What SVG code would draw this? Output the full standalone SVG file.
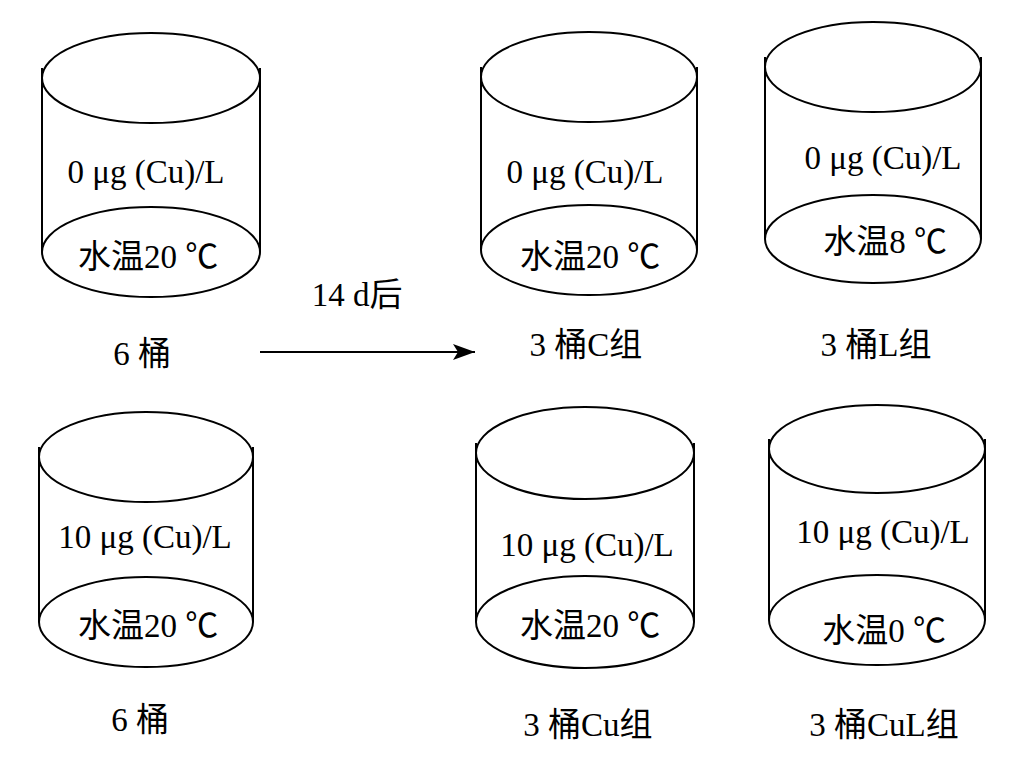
<svg xmlns="http://www.w3.org/2000/svg" width="1024" height="763" viewBox="0 0 1024 763">
<defs>
<style>
.cyl ellipse, .cyl line { fill: none; stroke: #000; stroke-width: 2; }
.t { font-family: "Liberation Serif", "Noto Sans CJK SC", serif; font-size: 33px; fill: #000; text-anchor: middle; }
.lb { font-family: "Liberation Serif", "Noto Sans CJK SC", serif; font-size: 33px; fill: #000; text-anchor: middle; }
.conn { stroke: #000; stroke-width: 2; fill: none; }
</style>
<marker id="ah" markerUnits="userSpaceOnUse" markerWidth="24" markerHeight="20" refX="22" refY="9" orient="auto">
<path d="M0,1 L22,9 L0,17 L5,9 Z" fill="#000"/>
</marker>
</defs>
<rect width="1024" height="763" fill="#fff"/>

<g id="c1" class="cyl">
<ellipse cx="151" cy="78" rx="109" ry="45"/>
<line x1="42" y1="68" x2="42" y2="252"/>
<line x1="260" y1="68" x2="260" y2="252"/>
<ellipse cx="151" cy="252" rx="109" ry="45"/>
<text class="t" x="146" y="183">0 μg (Cu)/L</text>
<text class="t" x="148" y="268">水温20 ℃</text>
</g>
<text id="l1" class="lb" x="142" y="365">6 桶</text>

<g id="c2" class="cyl">
<ellipse cx="146" cy="457" rx="107" ry="45"/>
<line x1="39" y1="447" x2="39" y2="622"/>
<line x1="253" y1="447" x2="253" y2="622"/>
<ellipse cx="146" cy="622" rx="107" ry="45"/>
<text class="t" x="145" y="548">10 μg (Cu)/L</text>
<text class="t" x="148" y="637">水温20 ℃</text>
</g>
<text id="l2" class="lb" x="140" y="731">6 桶</text>

<g id="c3" class="cyl">
<ellipse cx="589" cy="77" rx="108" ry="45"/>
<line x1="481" y1="67" x2="481" y2="250"/>
<line x1="697" y1="67" x2="697" y2="250"/>
<ellipse cx="589" cy="250" rx="108" ry="45"/>
<text class="t" x="585" y="183">0 μg (Cu)/L</text>
<text class="t" x="590" y="268">水温20 ℃</text>
</g>
<text id="l3" class="lb" x="586" y="356">3 桶C组</text>

<g id="c4" class="cyl">
<ellipse cx="873" cy="67" rx="108" ry="45"/>
<line x1="765" y1="57" x2="765" y2="239"/>
<line x1="981" y1="57" x2="981" y2="239"/>
<ellipse cx="873" cy="239" rx="108" ry="44"/>
<text class="t" x="883" y="169">0 μg (Cu)/L</text>
<text class="t" x="885" y="253">水温8 ℃</text>
</g>
<text id="l4" class="lb" x="876" y="356">3 桶L组</text>

<g id="c5" class="cyl">
<ellipse cx="585" cy="453" rx="109" ry="46"/>
<line x1="476" y1="443" x2="476" y2="622"/>
<line x1="694" y1="443" x2="694" y2="622"/>
<ellipse cx="585" cy="622" rx="109" ry="46"/>
<text class="t" x="587" y="556">10 μg (Cu)/L</text>
<text class="t" x="590" y="637">水温20 ℃</text>
</g>
<text id="l5" class="lb" x="588" y="736">3 桶Cu组</text>

<g id="c6" class="cyl">
<ellipse cx="877" cy="449" rx="108" ry="44"/>
<line x1="769" y1="439" x2="769" y2="620"/>
<line x1="985" y1="439" x2="985" y2="620"/>
<ellipse cx="877" cy="620" rx="108" ry="45"/>
<text class="t" x="883" y="543">10 μg (Cu)/L</text>
<text class="t" x="884" y="642">水温0 ℃</text>
</g>
<text id="l6" class="lb" x="884" y="736">3 桶CuL组</text>

<g id="connectors">
<line class="conn" x1="260" y1="352" x2="475" y2="352" marker-end="url(#ah)"/>
<text class="t" x="357" y="306">14 d后</text>
</g>
</svg>
